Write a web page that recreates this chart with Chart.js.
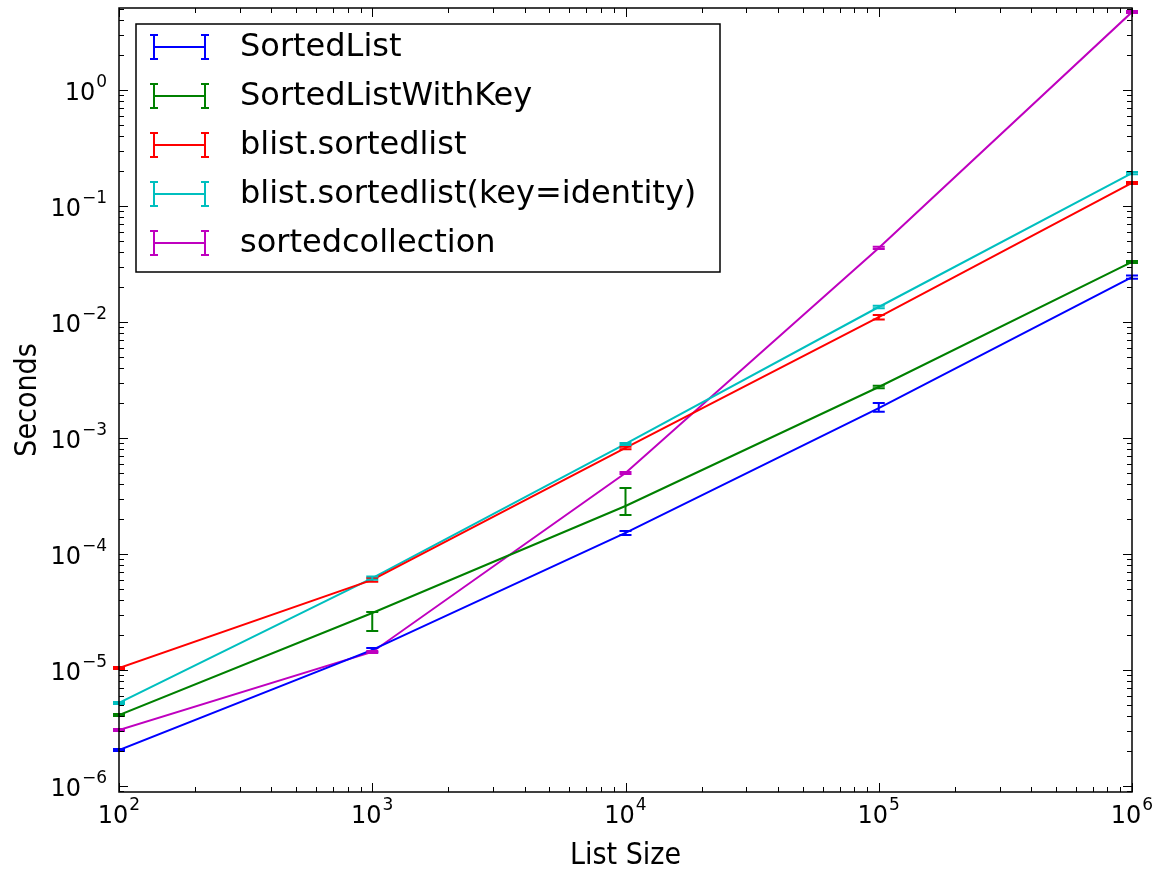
<!DOCTYPE html>
<html>
<head>
<meta charset="utf-8">
<title>Sorted list benchmark</title>
<script src="https://cdn.jsdelivr.net/npm/chart.js@4.4.1/dist/chart.umd.min.js"></script>
<style>
  html, body { margin: 0; padding: 0; background: #fff; }
  #wrap { width: 1159px; height: 874px; position: relative; }
</style>
</head>
<body>
<div id="wrap"><canvas id="chart"></canvas></div>
<script>
// list sizes (x axis)
const sizes = [100, 1000, 10000, 100000, 1000000];

// mean seconds per series
const sortedList        = [2.04e-6, 1.49e-5, 1.52e-4, 1.81e-3, 0.0244];
const sortedListWithKey = [4.09e-6, 3.1e-5, 2.59e-4, 2.75e-3, 0.0329];
const blistSorted       = [1.04e-5, 5.97e-5, 8.2e-4, 0.011, 0.158];
const blistSortedKey    = [5.2e-6, 6.2e-5, 8.88e-4, 0.01346, 0.192];
const sortedCollection  = [3.04e-6, 1.43e-5, 4.99e-4, 0.0435, 4.7];

// error bar ends (low / high)
const sortedListLow         = [2.0e-6, 1.43e-5, 1.46e-4, 1.68e-3, 0.0236];
const sortedListHigh        = [2.08e-6, 1.55e-5, 1.58e-4, 2.0e-3, 0.0252];
const sortedListWithKeyLow  = [4.0e-6, 2.17e-5, 2.17e-4, 2.68e-3, 0.0322];
const sortedListWithKeyHigh = [4.18e-6, 3.16e-5, 3.71e-4, 2.82e-3, 0.0336];
const blistSortedLow        = [1.02e-5, 5.75e-5, 8.0e-4, 0.0105, 0.155];
const blistSortedHigh       = [1.06e-5, 6.2e-5, 8.4e-4, 0.0115, 0.161];
const blistSortedKeyLow     = [5.1e-6, 6.0e-5, 8.7e-4, 0.0131, 0.188];
const blistSortedKeyHigh    = [5.3e-6, 6.4e-5, 9.05e-4, 0.0138, 0.196];
const sortedCollectionLow   = [2.98e-6, 1.4e-5, 4.9e-4, 0.0425, 4.6];
const sortedCollectionHigh  = [3.1e-6, 1.46e-5, 5.08e-4, 0.0445, 4.8];

const seriesNames = ['SortedList', 'SortedListWithKey', 'blist.sortedlist',
                     'blist.sortedlist(key=identity)', 'sortedcollection'];
const seriesColors = ['#0000ff', '#008000', '#ff0000', '#00bfbf', '#bf00bf'];

// tick labels (powers of ten)
const xTickExps = [2, 3, 4, 5, 6];
const yTickExps = [-6, -5, -4, -3, -2, -1, 0];

function points(vals) {
    return sizes.map((s, i) => ({ x: s, y: vals[i] }));
}

const allVals = [sortedList, sortedListWithKey, blistSorted, blistSortedKey, sortedCollection];
const allLow = [sortedListLow, sortedListWithKeyLow, blistSortedLow, blistSortedKeyLow, sortedCollectionLow];
const allHigh = [sortedListHigh, sortedListWithKeyHigh, blistSortedHigh, blistSortedKeyHigh, sortedCollectionHigh];

const datasets = seriesNames.map((name, i) => ({
    label: name,
    data: points(allVals[i]),
    errLow: allLow[i],
    errHigh: allHigh[i],
    borderColor: seriesColors[i],
    backgroundColor: seriesColors[i],
    borderWidth: 2,
    pointRadius: 0,
    tension: 0,
    fill: false
}));

// all decade + minor ticks between min and max
function logTicks(min, max) {
    const out = [];
    for (let e = Math.floor(Math.log10(min)); e <= Math.ceil(Math.log10(max)); e++) {
        for (let m = 1; m <= 9; m++) {
            const v = m * Math.pow(10, e);
            if (v >= min * 0.999 && v <= max * 1.001) out.push({ value: v, major: m === 1 });
        }
    }
    return out;
}

// error bars
const errorBars = {
    id: 'errorBars',
    afterDatasetsDraw(chart) {
        const ctx = chart.ctx, xs = chart.scales.x, ys = chart.scales.y;
        ctx.save();
        chart.data.datasets.forEach(ds => {
            ctx.strokeStyle = ds.borderColor;
            ctx.lineWidth = 2;
            ds.data.forEach((p, j) => {
                const x = xs.getPixelForValue(p.x);
                const y1 = ys.getPixelForValue(ds.errLow[j]);
                const y2 = ys.getPixelForValue(ds.errHigh[j]);
                ctx.beginPath();
                ctx.moveTo(x, y1); ctx.lineTo(x, y2);
                ctx.moveTo(x - 6, y1); ctx.lineTo(x + 6, y1);
                ctx.moveTo(x - 6, y2); ctx.lineTo(x + 6, y2);
                ctx.stroke();
            });
        });
        ctx.restore();
    }
};

// "10" with a raised exponent
function drawPow(ctx, e, x, y, align) {
    const base = '10', exp = String(e).replace('-', '\u2212');
    ctx.font = '24px "DejaVu Sans", sans-serif';
    const wb = ctx.measureText(base).width;
    ctx.font = '17px "DejaVu Sans", sans-serif';
    const we = ctx.measureText(exp).width;
    const total = wb + 1 + we;
    let left = align === 'right' ? x - total : x - total / 2;
    ctx.textAlign = 'left';
    ctx.textBaseline = 'middle';
    ctx.font = '24px "DejaVu Sans", sans-serif';
    ctx.fillText(base, left, y + 4);
    ctx.font = '17px "DejaVu Sans", sans-serif';
    ctx.fillText(exp, left + wb + 1, y - 7);
}

// frame with inward ticks on all four sides, tick labels, then the legend box
const frameTicks = {
    id: 'frameTicks',
    afterDraw(chart) {
        const ctx = chart.ctx, a = chart.chartArea;
        const xs = chart.scales.x, ys = chart.scales.y;
        ctx.save();
        ctx.strokeStyle = '#000';
        ctx.lineWidth = 1.5;
        ctx.strokeRect(a.left, a.top, a.right - a.left, a.bottom - a.top);
        ctx.lineWidth = 1;
        ctx.beginPath();
        xs.ticks.forEach(t => {
            const x = Math.round(xs.getPixelForValue(t.value)) + 0.5;
            const len = t.major ? 9 : 5;
            ctx.moveTo(x, a.bottom); ctx.lineTo(x, a.bottom - len);
            ctx.moveTo(x, a.top); ctx.lineTo(x, a.top + len);
        });
        ys.ticks.forEach(t => {
            const y = Math.round(ys.getPixelForValue(t.value)) + 0.5;
            const len = t.major ? 9 : 5;
            ctx.moveTo(a.left, y); ctx.lineTo(a.left + len, y);
            ctx.moveTo(a.right, y); ctx.lineTo(a.right - len, y);
        });
        ctx.stroke();

        ctx.fillStyle = '#000';
        xTickExps.forEach(e => {
            drawPow(ctx, e, xs.getPixelForValue(Math.pow(10, e)), a.bottom + 21, 'center');
        });
        yTickExps.forEach(e => {
            drawPow(ctx, e, a.left - 12, ys.getPixelForValue(Math.pow(10, e)), 'right');
        });

        // legend
        const lx = 136, ly = 24, lw = 584, lh = 248, row = 49;
        ctx.fillStyle = '#fff';
        ctx.fillRect(lx, ly, lw, lh);
        ctx.lineWidth = 1.5;
        ctx.strokeRect(lx, ly, lw, lh);
        ctx.font = '32px "DejaVu Sans", sans-serif';
        ctx.textAlign = 'left';
        ctx.textBaseline = 'middle';
        chart.data.datasets.forEach((ds, i) => {
            const cy = ly + 23 + i * row;
            ctx.strokeStyle = ds.borderColor;
            ctx.lineWidth = 2;
            ctx.beginPath();
            ctx.moveTo(154, cy); ctx.lineTo(205, cy);
            ctx.moveTo(154, cy - 12); ctx.lineTo(154, cy + 12);
            ctx.moveTo(205, cy - 12); ctx.lineTo(205, cy + 12);
            ctx.moveTo(150, cy - 12); ctx.lineTo(158, cy - 12);
            ctx.moveTo(150, cy + 12); ctx.lineTo(158, cy + 12);
            ctx.moveTo(201, cy - 12); ctx.lineTo(209, cy - 12);
            ctx.moveTo(201, cy + 12); ctx.lineTo(209, cy + 12);
            ctx.stroke();
            ctx.fillStyle = '#000';
            ctx.fillText(ds.label, 240, cy + 1);
        });
        ctx.restore();
    }
};

const xMin = 100, xMax = 1e6, yMin = 8.87e-7, yMax = 5.09;
const titleFont = { family: '"DejaVu Sans Condensed", "Liberation Sans Narrow", sans-serif', size: 30 };

const ctx = document.getElementById('chart').getContext('2d');
const chart = new Chart(ctx, {
    type: 'line',
    data: { datasets: datasets },
    plugins: [errorBars, frameTicks],
    options: {
        responsive: true,
        maintainAspectRatio: false,
        animation: false,
        layout: { padding: { top: 8, right: 27, left: 0, bottom: 0 } },
        plugins: {
            legend: { display: false },
            tooltip: { enabled: false }
        },
        scales: {
            x: {
                type: 'logarithmic',
                min: xMin,
                max: xMax,
                afterBuildTicks: s => { s.ticks = logTicks(xMin, xMax); },
                afterFit: s => { s.height = 82; },
                grid: { display: false },
                border: { display: false },
                ticks: { display: false },
                title: {
                    display: true,
                    text: 'List Size',
                    color: '#000',
                    padding: { top: 4, bottom: 0 },
                    font: titleFont
                }
            },
            y: {
                type: 'logarithmic',
                min: yMin,
                max: yMax,
                afterBuildTicks: s => { s.ticks = logTicks(yMin, yMax); },
                afterFit: s => { s.width = 119; },
                grid: { display: false },
                border: { display: false },
                ticks: { display: false },
                title: {
                    display: true,
                    text: 'Seconds',
                    color: '#000',
                    padding: { top: 10, bottom: 0 },
                    font: titleFont
                }
            }
        }
    }
});
</script>
</body>
</html>
